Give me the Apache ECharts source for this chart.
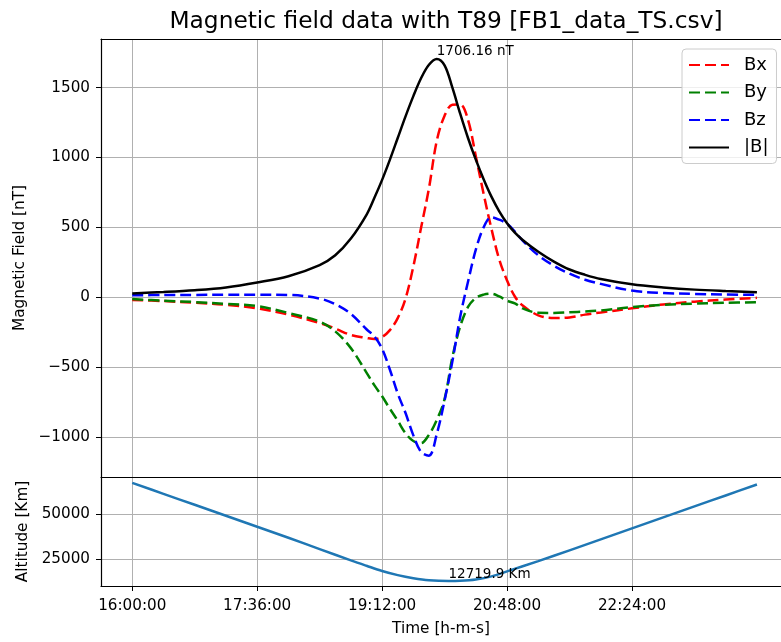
<!DOCTYPE html>
<html><head><meta charset="utf-8">
<script src="https://cdn.jsdelivr.net/npm/echarts@6/dist/echarts.min.js"></script>
<style>html,body{margin:0;padding:0;background:#fff}#c{width:781px;height:642px}</style>
</head><body><div id="c"></div>
<script>
// time in minutes after 16:00:00
const times = [0,24,48,72,96,120,144,156,168,180,186,192,198,204,210,216,222,228,234,240,246,252,258,264,270,276,282,288,294,300,312,324,336,348,360,384,408,432,456,480];
const bx = [-20,-28,-40,-55,-80,-125,-185,-225,-271,-292,-300,-285,-236,-150,-10,220,500,780,1120,1300,1378,1380,1270,1010,740,490,270,120,5,-60,-130,-150,-145,-125,-110,-80,-52,-32,-17,-5];
const by = [-14,-25,-35,-48,-64,-113,-175,-245,-365,-540,-630,-710,-800,-885,-975,-1030,-1045,-985,-880,-730,-430,-210,-70,-5,18,25,5,-25,-45,-80,-112,-113,-108,-103,-95,-71,-55,-46,-40,-37];
const bz = [14,15,16,18,18,16,-10,-50,-120,-230,-280,-370,-520,-690,-830,-990,-1110,-1135,-980,-740,-460,-140,110,340,500,572,555,526,470,405,300,225,168,125,95,47,30,23,19,17];
const bTotal = [27,37,50,70,105,150,230,300,420,590,710,840,985,1140,1295,1440,1570,1665,1706.16,1660,1500,1314,1140,985,845,720,615,530,462,410,325,255,198,160,130,92,70,54,44,36];

const altTimes = [0,24,48,72,96,120,144,168,180,192,204,216,228,243,252,264,276,288,312,336,360,384,408,432,456,480];
const altitude = [67300,61200,55100,49000,42900,36800,30500,24200,21200,18300,16000,14300,13150,12719.9,12850,13600,15300,18100,23800,29800,35900,42000,48100,54200,60300,66400];

const timeTicks = [0,96,192,288,384];
const fieldTicks = [-1000,-500,0,500,1000,1500];
const altTicks = [25000,50000];

const FONT = 'DejaVu Sans';
function pad(n){return (n<10?'0':'')+n;}
function fmtTime(m){const t=16*60+Math.round(m);return pad(Math.floor(t/60)%24)+':'+pad(t%60)+':00';}
function fmtNum(v){return v<0?'\u2212'+(-v):String(v);}
function pairs(xs, ys){return xs.map((x,i)=>[x, ys[i]]);}

const gridLine = {show:true, lineStyle:{color:'#b0b0b0', width:1}};
const spine = {show:true, onZero:false, lineStyle:{color:'#000', width:1.2}};
const dash = [11,5];
const SM = 0.35;
const LBL = 15.2, NAME = 15.3;
const XMIN = -24, XMAX = 498.5;

const chart = echarts.init(document.getElementById('c'), null, {renderer:'canvas'});
chart.setOption({
  animation:false,
  backgroundColor:'#fff',
  textStyle:{fontFamily:FONT},
  title:{text:'Magnetic field data with T89 [FB1_data_TS.csv]', left:441, top:5, textAlign:'center',
    textStyle:{fontFamily:FONT, fontWeight:'normal', fontSize:23.3, color:'#000'}},
  legend:{
    data:['Bx','By','Bz','|B|'], orient:'vertical', left:682, top:49,
    padding:[7,8,7,6], itemGap:9.5, itemWidth:40, itemHeight:14,
    backgroundColor:'rgba(255,255,255,0.8)', borderColor:'#cccccc', borderWidth:1, borderRadius:4,
    itemStyle:{opacity:0},
    textStyle:{fontFamily:FONT, fontSize:18, color:'#000', padding:[0,0,0,10]}
  },
  grid:[
    {left:101, top:39, width:680, height:438},
    {left:101, top:477, width:680, height:109}
  ],
  xAxis:[
    {type:'value', gridIndex:0, min:XMIN, max:XMAX, position:'bottom',
      axisLine:spine, axisTick:{show:false, customValues:timeTicks},
      axisLabel:{show:false, customValues:timeTicks}, splitLine:gridLine},
    {type:'value', gridIndex:1, min:XMIN, max:XMAX, position:'bottom',
      name:'Time [h-m-s]', nameLocation:'middle', nameGap:36,
      nameTextStyle:{fontFamily:FONT, fontSize:NAME, color:'#000'},
      axisLine:spine, axisTick:{show:true, length:5, customValues:timeTicks, lineStyle:{color:'#000'}},
      axisLabel:{customValues:timeTicks, formatter:fmtTime, fontFamily:FONT, fontSize:LBL, color:'#000', margin:13},
      splitLine:gridLine},
    {type:'value', gridIndex:0, min:XMIN, max:XMAX, position:'top',
      axisLine:spine, axisTick:{show:false}, axisLabel:{show:false}, splitLine:{show:false}}
  ],
  yAxis:[
    {type:'value', gridIndex:0, min:-1288, max:1849,
      name:'Magnetic Field [nT]', nameLocation:'middle', nameGap:70, nameRotate:90,
      nameTextStyle:{fontFamily:FONT, fontSize:NAME, color:'#000'},
      axisLine:spine, axisTick:{show:true, length:5, customValues:fieldTicks, lineStyle:{color:'#000'}},
      axisLabel:{customValues:fieldTicks, formatter:fmtNum, fontFamily:FONT, fontSize:LBL, color:'#000', margin:11},
      splitLine:gridLine},
    {type:'value', gridIndex:1, min:9966, max:70554,
      name:'Altitude [Km]', nameLocation:'middle', nameGap:68, nameRotate:90,
      nameTextStyle:{fontFamily:FONT, fontSize:NAME, color:'#000'},
      axisLine:spine, axisTick:{show:true, length:5, customValues:altTicks, lineStyle:{color:'#000'}},
      axisLabel:{customValues:altTicks, formatter:fmtNum, fontFamily:FONT, fontSize:LBL, color:'#000', margin:11},
      splitLine:gridLine}
  ],
  series:[
    {name:'Bx', type:'line', xAxisIndex:0, yAxisIndex:0, data:pairs(times,bx), symbol:'none', smooth:SM,
      lineStyle:{color:'#ff0000', width:2.5, type:dash}, itemStyle:{color:'#ff0000'}},
    {name:'By', type:'line', xAxisIndex:0, yAxisIndex:0, data:pairs(times,by), symbol:'none', smooth:SM,
      lineStyle:{color:'#008000', width:2.5, type:dash}, itemStyle:{color:'#008000'}},
    {name:'Bz', type:'line', xAxisIndex:0, yAxisIndex:0, data:pairs(times,bz), symbol:'none', smooth:SM,
      lineStyle:{color:'#0000ff', width:2.5, type:dash}, itemStyle:{color:'#0000ff'}},
    {name:'|B|', type:'line', xAxisIndex:0, yAxisIndex:0, data:pairs(times,bTotal), symbol:'none', smooth:SM,
      lineStyle:{color:'#000000', width:2.5}, itemStyle:{color:'#000000'},
      markPoint:{symbol:'circle', symbolSize:0, silent:true, data:[{type:'max', valueDim:'y'}],
        label:{show:true, position:[0,0], align:'left', verticalAlign:'bottom', color:'#000', fontFamily:FONT, fontSize:13.5,
          formatter:p=>p.value.toFixed(2)+' nT'}}},
    {name:'Altitude', type:'line', xAxisIndex:1, yAxisIndex:1, data:pairs(altTimes,altitude), symbol:'none', smooth:SM,
      lineStyle:{color:'#1f77b4', width:2.5}, itemStyle:{color:'#1f77b4'},
      markPoint:{symbol:'circle', symbolSize:0, silent:true, data:[{type:'min', valueDim:'y'}],
        label:{show:true, position:[0,0], align:'left', verticalAlign:'bottom', color:'#000', fontFamily:FONT, fontSize:13.5,
          formatter:p=>p.value.toFixed(1)+' Km'}}}
  ]
});
</script></body></html>
